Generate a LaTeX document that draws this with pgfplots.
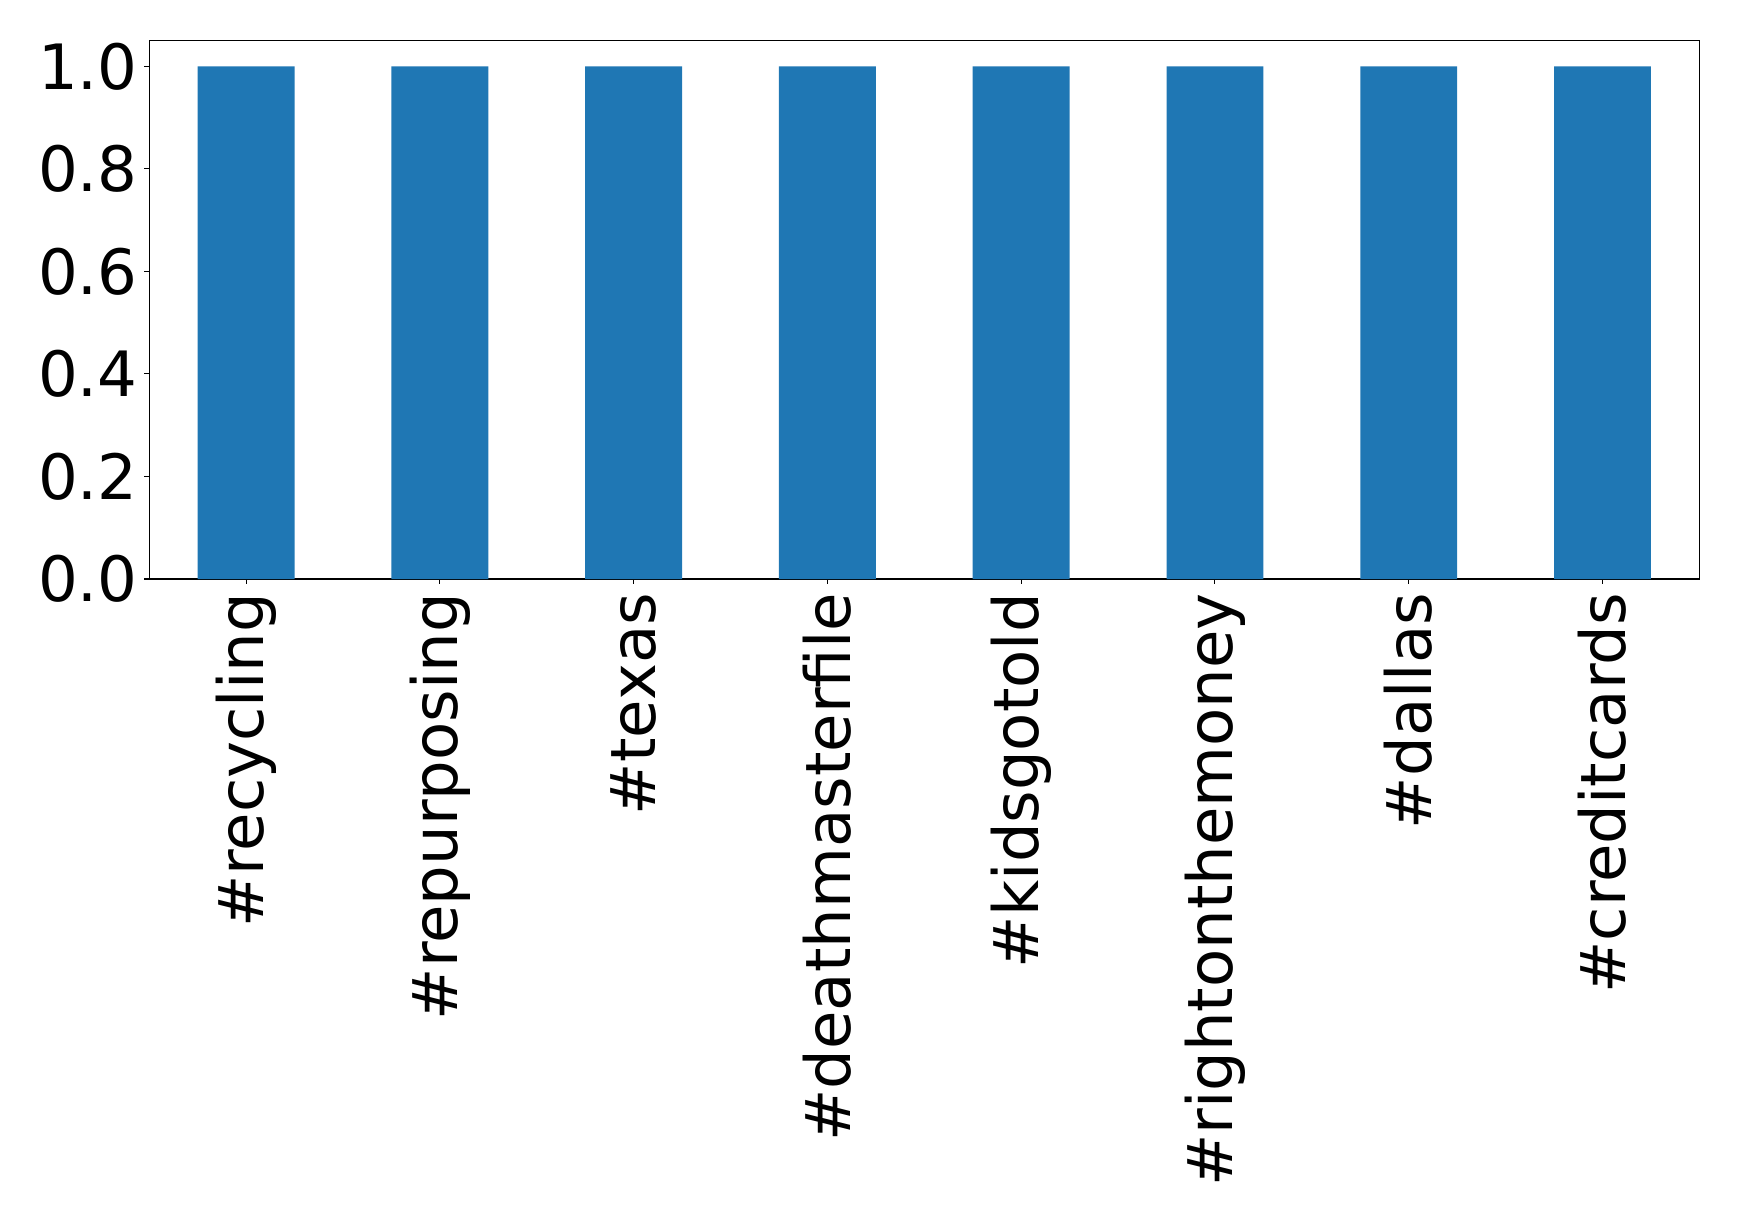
\documentclass[border=0pt]{standalone}
\usepackage{fontspec}
\setmainfont{DejaVu Sans}
\usepackage{pgfplots}
\pgfplotsset{compat=1.18}
\definecolor{mplblue}{HTML}{1F77B4}
\begin{document}
\begin{tikzpicture}
\begin{axis}[
    scale only axis,
    width=775pt, height=269.15pt,
    xmin=-0.5, xmax=7.5,
    ymin=0, ymax=1.05,
    axis line style={line width=0.55pt},
    every tick/.style={black, line width=0.55pt},
    tick align=outside,
    major tick length=2.43pt,
    xtick pos=bottom, ytick pos=left,
    xtick={0,1,2,3,4,5,6,7},
    xticklabels={\#recycling,\#repurposing,\#texas,\#deathmasterfile,\#kidsgotold,\#rightonthemoney,\#dallas,\#creditcards},
    ytick={0,0.2,0.4,0.6,0.8,1.0},
    /pgf/number format/assume math mode=true,
    yticklabel={\pgfmathprintnumber[fixed,fixed zerofill,precision=1]{\tick}},
    tick label style={font=\fontsize{31.25}{37.5}\selectfont, inner sep=0pt},
    xticklabel style={rotate=90, anchor=east},
    yticklabel style={anchor=east},
    xticklabel shift=4.4pt,
    yticklabel shift=3.2pt,
]
\addplot[ybar, bar width=0.5, fill=mplblue, draw=none] coordinates {
  (0,1) (1,1) (2,1) (3,1) (4,1) (5,1) (6,1) (7,1)
};
\end{axis}
\path ([xshift=-74.65pt,yshift=-321.5pt]current axis.south west)
  rectangle ([xshift=19.85pt,yshift=20.35pt]current axis.north east);
\end{tikzpicture}
\end{document}
